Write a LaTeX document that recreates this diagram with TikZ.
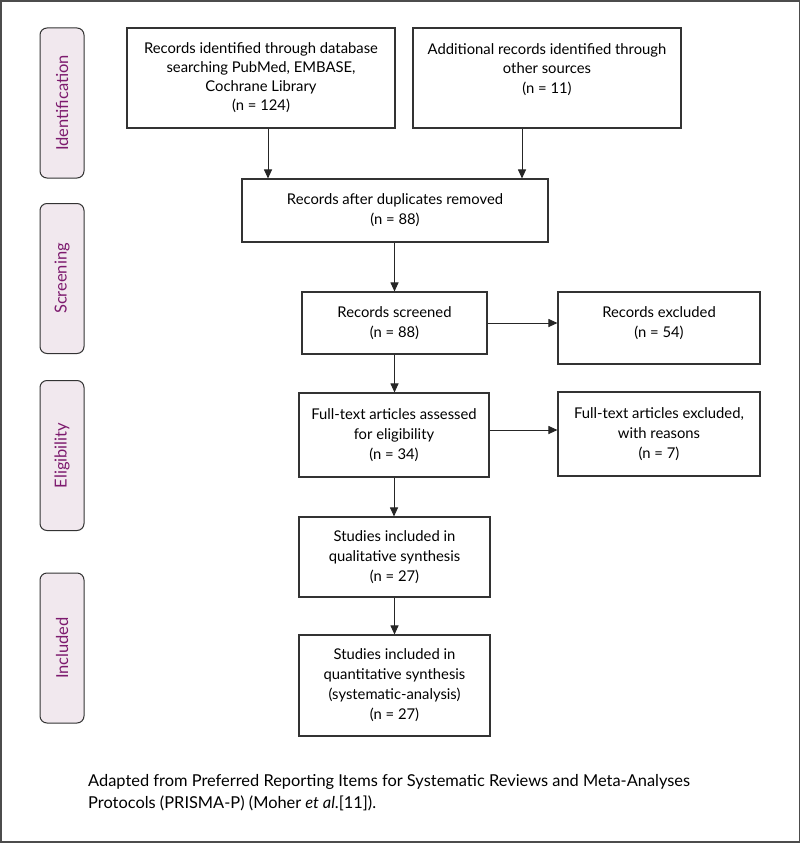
\documentclass[tikz,border=0pt]{standalone}
\usepackage{fontspec}
\setmainfont{Lato}
\usetikzlibrary{arrows.meta}
\definecolor{phase}{HTML}{7D1A6E}
\definecolor{phasefill}{HTML}{F1E8EE}
\begin{document}
\begin{tikzpicture}[x=1pt,y=-1pt,
  box/.style={draw=black!80, line width=1.1pt, align=center, inner sep=0pt, font=\fontsize{14.8}{20}\selectfont},
  phasebox/.style={draw=black!80, fill=phasefill, rounded corners=7pt, line width=1pt, minimum width=44pt, minimum height=150pt, inner sep=0pt},
  phasetext/.style={text=phase, rotate=90, inner sep=0pt, font=\fontsize{16.5}{18}\selectfont},
  flow/.style={-{Triangle[width=8pt,length=9pt]}, line width=1pt, draw=black!85},
]
\useasboundingbox (0,0) rectangle (800,843);
\draw[draw=black!70, line width=1.5pt] (0.75,1) rectangle (799.25,842);

% phase labels
\node[phasebox] (pid) at (62,103) {};
\node[phasetext] (tid) at (pid.center) {Identification};
\node[phasebox] (psc) at (62,278.5) {};
\node[phasetext] (tsc) at (psc.center) {Screening};
\node[phasebox] (pel) at (62,455.5) {};
\node[phasetext] (tel) at (pel.center) {Eligibility};
\node[phasebox] (pin) at (62,648) {};
\node[phasetext] (tin) at (pin.center) {Included};

% boxes
\node[box, font=\fontsize{14.8}{19}\selectfont, minimum width=268pt, minimum height=100pt] (b1) at (261,78)
  {Records identified through database\\searching PubMed, EMBASE,\\Cochrane Library\\(n = 124)};
\node[box, font=\fontsize{14.8}{19.5}\selectfont, minimum width=268pt, minimum height=100pt] (b2) at (547,78)
  {Additional records identified through\\other sources\\(n = 11)\\\mbox{}};
\node[box, minimum width=306pt, minimum height=63pt] (b3) at (395,210.5)
  {Records after duplicates removed\\(n = 88)};
\node[box, minimum width=185pt, minimum height=62pt] (b4) at (394.5,323)
  {Records screened\\(n = 88)};
\node[box, minimum width=202pt, minimum height=72pt] (e1) at (659,328)
  {Records excluded\\(n = 54)\\[-8pt]\mbox{}};
\node[box, minimum width=190pt, minimum height=84pt] (b5) at (394,435)
  {Full-text articles assessed\\for eligibility\\(n = 34)};
\node[box, minimum width=202pt, minimum height=84pt] (e2) at (659,434)
  {Full-text articles excluded,\\with reasons\\(n = 7)};
\node[box, minimum width=191pt, minimum height=80pt] (b6) at (394.5,557)
  {Studies included in\\qualitative synthesis\\(n = 27)};
\node[box, minimum width=191pt, minimum height=101pt] (b7) at (394.5,685.5)
  {Studies included in\\quantitative synthesis\\(systematic-analysis)\\(n = 27)};

% connectors
\coordinate (a1) at (268,0);
\coordinate (a2) at (522,0);
\coordinate (h2) at (0,430);
\draw[flow] (b1.south -| a1) -- (b3.north -| a1);
\draw[flow] (b2.south -| a2) -- (b3.north -| a2);
\draw[flow] (b3.south -| b4.north) -- (b4.north);
\draw[flow] (b4.east) -- (e1.west |- b4.east);
\draw[flow] (b4.south) -- (b5.north -| b4.south);
\draw[flow] (b5.east |- h2) -- (e2.west |- h2);
\draw[flow] (b5.south) -- (b6.north -| b5.south);
\draw[flow] (b6.south) -- (b7.north);

% caption
\node[anchor=north west, align=left, inner sep=0pt, font=\fontsize{16.4}{22}\selectfont] (cap) at (88,774)
  {Adapted from Preferred Reporting Items for Systematic Reviews and Meta-Analyses\\Protocols (PRISMA-P) (Moher \textit{et al}.[11]).};
\end{tikzpicture}
\end{document}
